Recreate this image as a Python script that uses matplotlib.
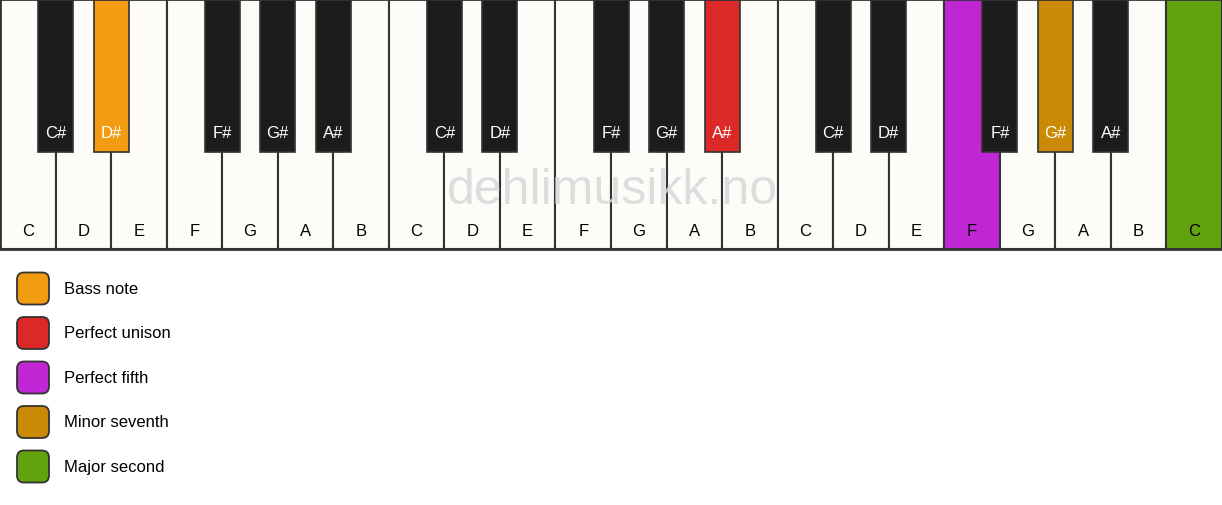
import matplotlib
matplotlib.use("Agg")
import matplotlib.pyplot as plt
from matplotlib.patches import Rectangle, FancyBboxPatch

# keyboard: three octaves plus top C
white_notes = ["C", "D", "E", "F", "G", "A", "B"] * 3 + ["C"]
sharp_after = {"C": "C#", "D": "D#", "F": "F#", "G": "G#", "A": "A#"}

# highlighted keys: (kind, index among that kind) -> legend role
legend_labels = ["Bass note", "Perfect unison", "Perfect fifth",
                 "Minor seventh", "Major second"]
legend_colors = ["#f39c12", "#dd2828", "#c026d3", "#cb8a06", "#63a20f"]
highlight_keys = [("black", 1), ("black", 9), ("white", 17),
                  ("black", 13), ("white", 21)]
label_on_colored = ["white", "white", "black", "white", "black"]

WHITE = "#fdfcf9"
BLACK = "#1c1c1c"
EDGE = "#333333"
FIG_W, FIG_H = 1222, 506
KB_H = 250          # keyboard height in px
BK_H = 153          # black key height in px
BK_W = 35           # black key width in px
KW = FIG_W / len(white_notes)
FONT = "Liberation Sans"

fig = plt.figure(figsize=(FIG_W / 100, FIG_H / 100), dpi=100)
ax = fig.add_axes([0, 0, 1, 1])
ax.set_xlim(0, FIG_W)
ax.set_ylim(FIG_H, 0)
ax.axis("off")

hl = {k: i for i, k in enumerate(highlight_keys)}

# white keys
for i, note in enumerate(white_notes):
    j = hl.get(("white", i))
    fc = legend_colors[j] if j is not None else WHITE
    tc = label_on_colored[j] if j is not None else "black"
    ax.add_patch(Rectangle((i * KW, 0), KW, KB_H, facecolor=fc,
                           edgecolor=EDGE, linewidth=1.5, zorder=1))
    ax.text((i + 0.5) * KW, 231, note, ha="center", va="center",
            fontsize=12, color=tc, family=FONT, zorder=2)

# watermark over white keys
ax.text(FIG_W / 2 + 1, 191, "dehlimusikk.no", ha="center", va="center",
        fontsize=36, color="#d8d8d8", alpha=0.85, family=FONT, zorder=3)

# black keys
b = 0
for i, note in enumerate(white_notes[:-1]):
    if note not in sharp_after:
        continue
    j = hl.get(("black", b))
    fc = legend_colors[j] if j is not None else BLACK
    xc = (i + 1) * KW
    ax.add_patch(Rectangle((xc - BK_W / 2, 0), BK_W, BK_H, facecolor=fc,
                           edgecolor=EDGE, linewidth=1.2, zorder=4))
    ax.text(xc, 133, sharp_after[note], ha="center", va="center",
            fontsize=12, color="white", family=FONT, zorder=5)
    b += 1

# outer border
ax.add_patch(Rectangle((0, 0), FIG_W, KB_H, fill=False,
                       edgecolor=EDGE, linewidth=2, zorder=6))

# legend
for k, (lab, col) in enumerate(zip(legend_labels, legend_colors)):
    yc = 289.5 + k * 44.5
    ax.add_patch(FancyBboxPatch((17, yc - 16), 32, 32,
                                boxstyle="round,pad=0,rounding_size=7",
                                facecolor=col, edgecolor=EDGE, linewidth=1.3,
                                zorder=2))
    ax.text(64, yc, lab, ha="left", va="center", fontsize=12,
            color="black", family=FONT)

fig.savefig("out.png", dpi=100)
